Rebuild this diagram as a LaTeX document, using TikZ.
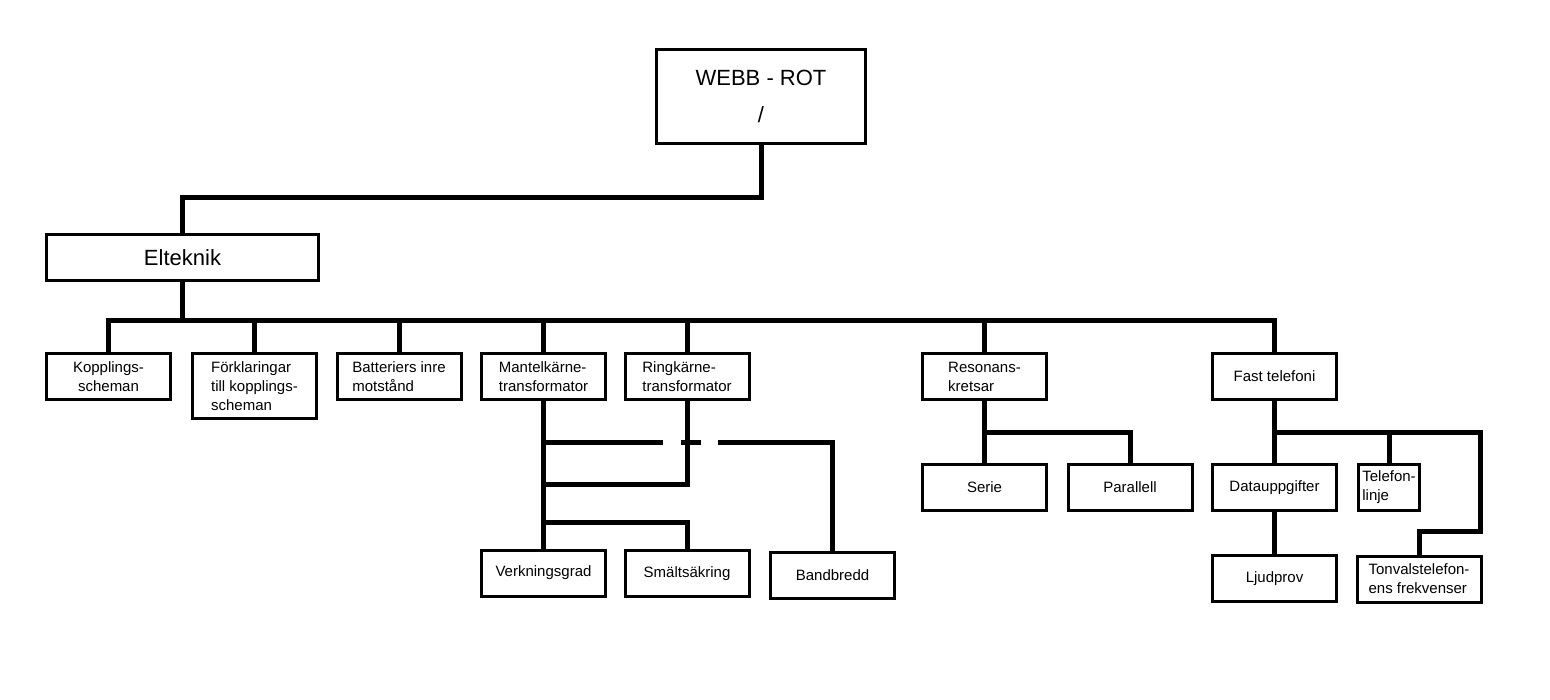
\documentclass[tikz,border=0pt]{standalone}
\usepackage{fontspec}
\setmainfont{Liberation Sans}

\begin{document}
\begin{tikzpicture}[
  x=0.5pt, y=-0.5pt,
  box/.style={draw, line width=1.5pt, inner sep=0pt, align=left, minimum width=62pt, minimum height=23pt, font=\fontsize{7.5}{9.5}\selectfont},
  big/.style={box, align=center, font=\fontsize{11}{18.5}\selectfont},
  conn/.style={line width=2.5pt}
]
\useasboundingbox (0,0) rectangle (1550,700);

% Root and first level
\node[big, minimum width=104.5pt, minimum height=47pt] (root) at (761, 96.5) {WEBB - ROT\\/};
\node[big, minimum width=136pt] (elteknik) at (182.5, 257.5) {Elteknik};

% Second level
\node[box, align=center] (kop) at (108.5, 376.5) {Kopplings-\\scheman};
\node[box, minimum height=32.5pt] (fork) at (254.5, 386) {Förklaringar\\till kopplings-\\scheman};
\node[box] (batt) at (399, 376.5) {Batteriers inre\\motstånd};
\node[box] (mantel) at (543.5, 376.5) {Mantelkärne-\\transformator};
\node[box] (ring) at (687, 376.5) {Ringkärne-\\transformator};
\node[box] (reson) at (984.5, 376.5) {Resonans-\\kretsar};
\node[box] (fast) at (1274.5, 376.5) {Fast telefoni};

% Under the transformers
\node[box] (verk) at (543.5, 573) {Verkningsgrad};
\node[box] (smalt) at (687, 573.5) {Smältsäkring};
\node[box] (band) at (832.5, 575) {Bandbredd};

% Under the resonance circuits
\node[box] (serie) at (984.5, 487) {Serie};
\node[box] (para) at (1130, 487) {Parallell};

% Under fixed telephony
\node[box] (data) at (1274.5, 487.5) {Datauppgifter};
\node[box, minimum width=30.5pt] (tele) at (1389, 487.5) {Telefon-\\linje};
\node[box] (ljud) at (1274.5, 578.5) {Ljudprov};
\node[box] (tonval) at (1419, 579) {Tonvalstelefon-\\ens frekvenser};

% Connectors
\draw[conn] (root.south) -- ++(0,52.5) -| (elteknik.north);
\coordinate (bus) at (elteknik.south |- 0,320);
\draw[conn] (elteknik.south) -- (bus);
\foreach \c in {kop, fork, batt, mantel, ring, reson, fast}
  \draw[conn] (bus) -| (\c.north);

\draw[conn] (mantel.south) -- (verk.north);
\draw[conn, dash pattern=on 59.75pt off 9pt on 10pt off 8.5pt on 400pt] (mantel.south |- 0,442) -| (band.north);
\draw[conn] (ring.south) |- (mantel.south |- 0,484);
\draw[conn] (mantel.south |- 0,522) -| (smalt.north);

\draw[conn] (reson.south) -- (serie.north);
\draw[conn] (reson.south |- 0,432) -| (para.north);

\draw[conn] (fast.south) -- (data.north);
\draw[conn] (data.south) -- (ljud.north);
\draw[conn] (fast.south |- 0,432) -- (1480,432) -- (1480,531) -| (tonval.north);
\draw[conn] (tele.north) -- (tele.north |- 0,432);

\end{tikzpicture}
\end{document}
